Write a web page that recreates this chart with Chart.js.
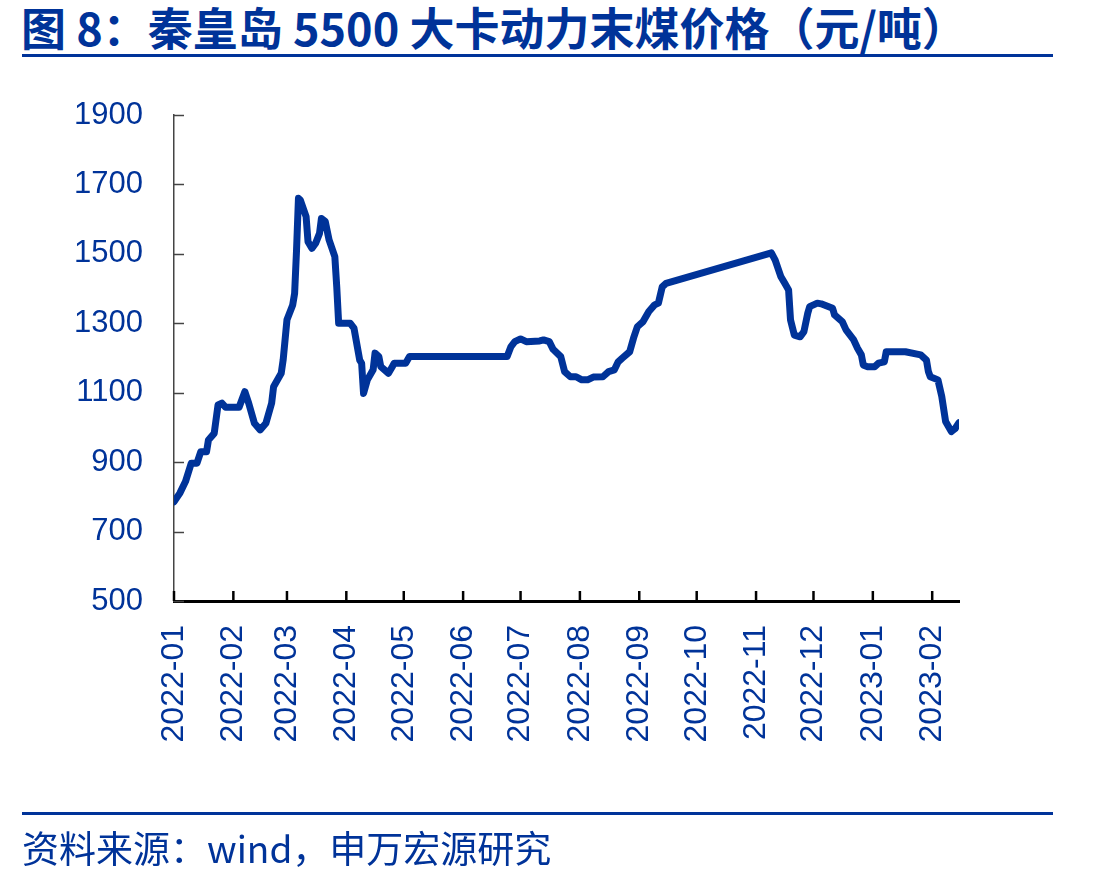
<!DOCTYPE html>
<html>
<head>
<meta charset="utf-8">
<script src="https://cdn.jsdelivr.net/npm/chart.js@4.4.0/dist/chart.umd.min.js"></script>
<style>
    body { margin: 0; background: #fff; }
    #wrap { position: relative; width: 1101px; height: 882px; overflow: hidden; }
    #title { position: absolute; left: 21px; top: 4px; font: bold 45px/45px "Noto Sans CJK SC", sans-serif; color: #003399; white-space: nowrap; }
    .rule { position: absolute; left: 22px; width: 1031px; height: 3px; background: #003399; }
    #source { position: absolute; left: 22px; top: 828px; font: 37px/38px "Noto Sans CJK SC", sans-serif; color: #003399; white-space: nowrap; }
    #c { position: absolute; left: 0; top: 0; }
</style>
</head>
<body>
<div id="wrap">
    <div id="title">图 8：秦皇岛 5500 大卡动力末煤价格（元/吨）</div>
    <div class="rule" style="top:54px"></div>
    <canvas id="c" width="1101" height="882"></canvas>
    <div class="rule" style="top:812px"></div>
    <div id="source">资料来源：wind，申万宏源研究</div>
</div>
<script>
// 秦皇岛5500大卡动力末煤价格 (元/吨)
var dates = [
    '2022-01-01', '2022-01-04', '2022-01-07', '2022-01-10', '2022-01-13', '2022-01-15', '2022-01-18', '2022-01-19',
    '2022-01-22', '2022-01-24', '2022-01-26', '2022-01-28', '2022-02-04', '2022-02-07', '2022-02-09', '2022-02-12',
    '2022-02-15', '2022-02-18', '2022-02-21', '2022-02-22', '2022-02-26', '2022-02-27', '2022-03-01', '2022-03-04',
    '2022-03-05', '2022-03-06', '2022-03-07', '2022-03-08', '2022-03-11', '2022-03-12', '2022-03-14', '2022-03-16',
    '2022-03-18', '2022-03-19', '2022-03-21', '2022-03-23', '2022-03-26', '2022-03-27', '2022-03-28', '2022-04-03',
    '2022-04-05', '2022-04-08', '2022-04-09', '2022-04-10', '2022-04-12', '2022-04-15', '2022-04-16', '2022-04-18',
    '2022-04-19', '2022-04-23', '2022-04-25', '2022-04-26', '2022-05-02', '2022-05-04', '2022-06-24', '2022-06-26',
    '2022-06-28', '2022-07-01', '2022-07-04', '2022-07-11', '2022-07-13', '2022-07-16', '2022-07-18', '2022-07-22',
    '2022-07-24', '2022-07-27', '2022-07-30', '2022-08-02', '2022-08-05', '2022-08-08', '2022-08-13', '2022-08-16',
    '2022-08-19', '2022-08-21', '2022-08-23', '2022-08-27', '2022-08-29', '2022-08-31', '2022-09-03', '2022-09-06',
    '2022-09-09', '2022-09-11', '2022-09-13', '2022-09-15', '2022-11-09', '2022-11-11', '2022-11-14', '2022-11-16',
    '2022-11-18', '2022-11-19', '2022-11-21', '2022-11-24', '2022-11-26', '2022-11-28', '2022-11-29', '2022-12-03',
    '2022-12-05', '2022-12-11', '2022-12-12', '2022-12-16', '2022-12-18', '2022-12-22', '2022-12-24', '2022-12-26',
    '2022-12-27', '2022-12-29', '2023-01-02', '2023-01-04', '2023-01-07', '2023-01-08', '2023-01-18', '2023-01-26',
    '2023-01-29', '2023-01-30', '2023-01-31', '2023-02-04', '2023-02-06', '2023-02-08', '2023-02-11', '2023-02-13',
    '2023-02-15'
];
var prices = [
    786, 810, 844, 897, 897, 930, 930, 964,
    983, 1065, 1070, 1058, 1058, 1103, 1070, 1012,
    993, 1012, 1070, 1117, 1156, 1194, 1310, 1353,
    1386, 1511, 1660, 1655, 1607, 1535, 1516, 1531,
    1559, 1602, 1593, 1540, 1492, 1405, 1300, 1300,
    1286, 1194, 1185, 1098, 1137, 1166, 1214, 1204,
    1175, 1156, 1175, 1185, 1185, 1204, 1204, 1233,
    1247, 1255, 1247, 1249, 1252, 1247, 1225, 1204,
    1161, 1146, 1146, 1137, 1137, 1145, 1146, 1161,
    1166, 1189, 1199, 1218, 1257, 1290, 1305, 1334,
    1353, 1358, 1405, 1415, 1503, 1482, 1434, 1415,
    1396, 1310, 1266, 1261, 1276, 1329, 1348, 1358,
    1356, 1343, 1324, 1305, 1281, 1252, 1228, 1209,
    1180, 1175, 1175, 1185, 1189, 1218, 1218, 1209,
    1194, 1161, 1146, 1137, 1089, 1017, 988, 997,
    1014
];
var monthLabels = ['2022-01', '2022-02', '2022-03', '2022-04', '2022-05', '2022-06', '2022-07',
    '2022-08', '2022-09', '2022-10', '2022-11', '2022-12', '2023-01', '2023-02'];
var yTicks = [500, 700, 900, 1100, 1300, 1500, 1700, 1900];

var blue = '#003399';

function dayIndex(s) {
    var p = s.split('-');
    return (Date.UTC(+p[0], +p[1] - 1, p[2] ? +p[2] : 1) - Date.UTC(2022, 0, 1)) / 86400000;
}

var points = dates.map(function (d, i) { return { x: dayIndex(d), y: prices[i] }; });
var monthPos = monthLabels.map(function (m) { return dayIndex(m); });

// tick marks point into the plot, so draw them by hand on the scale positions
var innerTicks = {
    id: 'innerTicks',
    beforeDatasetsDraw: function (chart) {
        var c = chart.ctx, a = chart.chartArea;
        var sx = chart.scales.x, sy = chart.scales.y;
        c.save();
        c.strokeStyle = '#444';
        c.lineWidth = 1.5;
        sy.ticks.forEach(function (t) {
            var py = Math.round(sy.getPixelForValue(t.value)) + 0.5;
            c.beginPath();
            c.moveTo(a.left, py);
            c.lineTo(a.left + 10, py);
            c.stroke();
        });
        c.strokeStyle = '#000';
        c.lineWidth = 2.5;
        sx.ticks.forEach(function (t) {
            var px = sx.getPixelForValue(t.value);
            c.beginPath();
            c.moveTo(px, a.bottom);
            c.lineTo(px, a.bottom - 10);
            c.stroke();
        });
        c.restore();
    }
};

var ctx = document.getElementById('c').getContext('2d');

new Chart(ctx, {
    type: 'line',
    data: {
        datasets: [{
            data: points,
            borderColor: blue,
            borderWidth: 7,
            pointRadius: 0,
            tension: 0,
            borderJoinStyle: 'round',
            borderCapStyle: 'round',
            fill: false
        }]
    },
    options: {
        responsive: false,
        animation: false,
        layout: {
            padding: { top: 115, left: 0, right: 142, bottom: 0 }
        },
        plugins: {
            legend: { display: false },
            tooltip: { enabled: false }
        },
        scales: {
            x: {
                type: 'linear',
                min: 0,
                max: dayIndex(dates[dates.length - 1]),
                grid: { display: false, drawTicks: false },
                border: { color: '#000', width: 3 },
                afterBuildTicks: function (scale) {
                    scale.ticks = monthPos.map(function (v) { return { value: v }; });
                },
                afterFit: function (scale) { scale.height = 281; },
                ticks: {
                    autoSkip: false,
                    minRotation: 90,
                    maxRotation: 90,
                    padding: 24,
                    color: blue,
                    font: { family: 'Liberation Sans', size: 32 },
                    callback: function (value, index) { return monthLabels[index]; }
                }
            },
            y: {
                min: 500,
                max: 1900,
                grid: { display: false, drawTicks: false },
                border: { color: '#444', width: 1.5 },
                afterBuildTicks: function (scale) {
                    scale.ticks = yTicks.map(function (v) { return { value: v }; });
                },
                afterFit: function (scale) { scale.width = 174; },
                ticks: {
                    padding: 31,
                    color: blue,
                    font: { family: 'Liberation Sans', size: 31 },
                    callback: function (value) { return String(value); }
                }
            }
        }
    },
    plugins: [innerTicks]
});
</script>
</body>
</html>
